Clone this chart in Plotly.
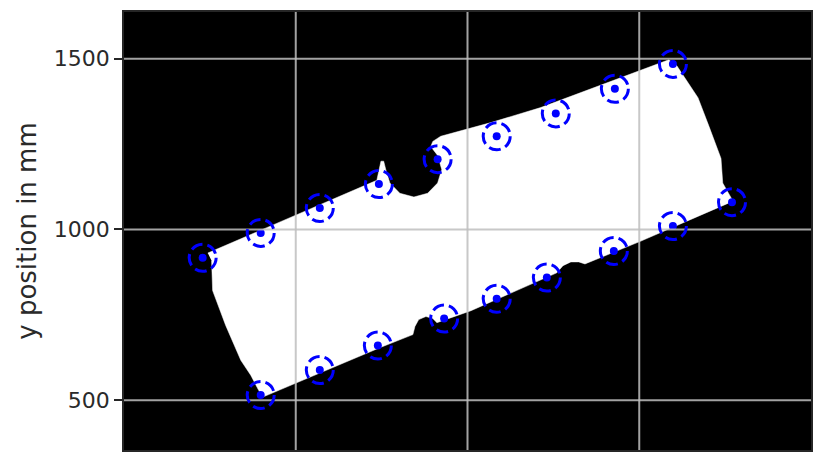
import plotly.graph_objects as go

# detected marker positions in mm (top row and bottom row of the part)
top_x = [229, 398, 570, 742, 913, 1085, 1257, 1429, 1598]
top_y = [917, 990, 1063, 1133, 1206, 1273, 1340, 1412, 1485]
bottom_x = [398, 570, 739, 932, 1085, 1231, 1426, 1598, 1770]
bottom_y = [515, 588, 660, 739, 797, 859, 937, 1010, 1080]

# outline of the white part (binary mask), in mm
part_x = [244, 404, 573, 736, 748, 756, 762, 774, 803, 844, 884, 913, 925,
          913, 893, 899, 922, 1068, 1213, 1429, 1586, 1609,
          1633, 1671, 1703, 1738, 1743, 1773, 1679, 1505, 1342, 1324, 1301, 1278,
          1260, 1097, 1010, 911, 899, 879, 858, 847, 841, 748, 515, 404, 392,
          369, 340, 296, 258, 255]
part_y = [931, 1001, 1074, 1144, 1200, 1200, 1176, 1136, 1106, 1095, 1106, 1136,
          1176, 1217, 1243, 1258, 1273, 1313, 1357, 1439, 1497, 1480,
          1442, 1386, 1302, 1208, 1136, 1083, 1042, 966, 899, 905,
          905, 894, 873, 800, 762, 727, 739, 745, 736, 716, 692, 655, 555, 509,
          529, 573, 617, 719, 821, 908]

grid_vals = [500, 1000, 1500]
y_ticks = [500, 1000, 1500]

pts_x = top_x + bottom_x
pts_y = top_y + bottom_y

fig = go.Figure()
fig.add_trace(go.Scatter(x=part_x, y=part_y, mode="lines", fill="toself",
                         fillcolor="white", line=dict(color="white", width=0.5),
                         hoverinfo="skip", showlegend=False))
fig.add_trace(go.Scatter(x=pts_x, y=pts_y, mode="markers",
                         marker=dict(color="blue", size=8),
                         showlegend=False))

# grid on top of the image, like matplotlib does here
for g in grid_vals:
    fig.add_shape(type="line", xref="x", yref="paper", x0=g, x1=g, y0=0, y1=1,
                  line=dict(color="rgba(190,190,190,0.85)", width=2), layer="above")
    fig.add_shape(type="line", xref="paper", yref="y", x0=0, x1=1, y0=g, y1=g,
                  line=dict(color="rgba(190,190,190,0.85)", width=2), layer="above")

# dashed rings around every detected point
for px_, py_ in zip(pts_x, pts_y):
    fig.add_shape(type="circle", xref="x", yref="y",
                  xsizemode="pixel", ysizemode="pixel",
                  xanchor=px_, yanchor=py_, x0=-13.5, x1=13.5, y0=-13.5, y1=13.5,
                  line=dict(color="blue", width=3, dash="12px,5px"), layer="above")

# page body has an 8px margin, so the figure is a bit smaller than the window
fig.update_layout(
    width=815, height=456,
    margin=dict(l=116, r=12, t=2, b=14),
    plot_bgcolor="black", paper_bgcolor="white",
    font=dict(family="DejaVu Sans", size=22, color="#2a2a2a"),
)
fig.update_xaxes(range=[0, 2000], showgrid=False, zeroline=False,
                 showticklabels=False, ticks="",
                 showline=True, linecolor="#262626", linewidth=1.5, mirror=True)
fig.update_yaxes(range=[354, 1637], tickvals=y_ticks, showgrid=False, zeroline=False,
                 ticks="outside", ticklen=8, tickwidth=1.5, tickcolor="#262626",
                 showline=True, linecolor="#262626", linewidth=1.5, mirror=True,
                 title=dict(text="y position in mm", standoff=10))

fig.write_html("out.html")
